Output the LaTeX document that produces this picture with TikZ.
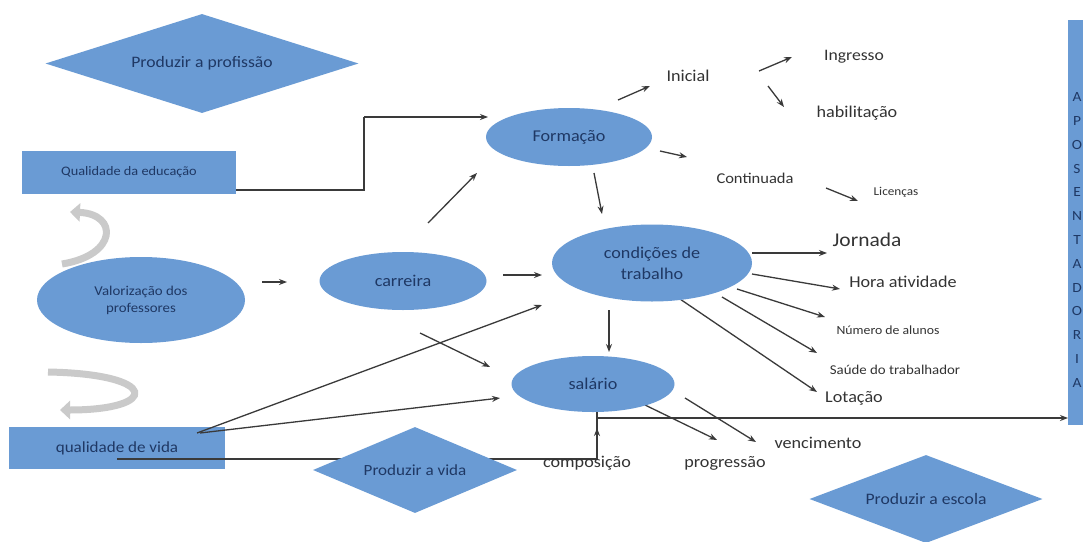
\documentclass[tikz,border=0pt]{standalone}
\usepackage{fontspec}
\setmainfont{Carlito}[FakeStretch=1.1]
\usetikzlibrary{arrows.meta,shapes.geometric}
\definecolor{shapefill}{HTML}{6A9BD4}
\definecolor{shapetext}{HTML}{1F3864}
\definecolor{linecol}{HTML}{3A3A3A}
\definecolor{labelcol}{HTML}{333333}
\definecolor{swirl}{HTML}{CACACA}
\begin{document}
\begin{tikzpicture}[x=1pt,y=-1pt,
  blob/.style={ellipse, fill=shapefill, inner sep=0pt, text=shapetext, align=center},
  box/.style={rectangle, fill=shapefill, inner sep=0pt, text=shapetext},
  dia/.style={diamond, shape aspect=3, fill=shapefill, inner sep=0pt, text=shapetext},
  lab/.style={text=labelcol, inner sep=0pt},
  arr/.style={draw=linecol, line width=1.3pt, -{Stealth[length=8pt,width=6pt]}},
  ln/.style={draw=linecol, line width=1.3pt},
  swirlarrow/.style={draw=swirl, line width=7pt, -{Triangle[length=10pt,width=18pt]}}]
\useasboundingbox (0,0) rectangle (1083,541);
\fill[white] (0,0) rectangle (1083,541);
\begin{scope}
\clip (0,0) rectangle (1083,541);

% grey swirl arrows
\draw[swirlarrow] (62,264) .. controls (118,255) and (118,214) .. (70,212);
\draw[swirlarrow] (48,372) .. controls (160,374) and (160,410) .. (60,410);

% boxes drawn first
\node[box, minimum width=214pt, minimum height=43pt, font=\fontsize{13}{15}\selectfont] (qedu) at (129,172.5) {Qualidade da educação};
\node[box, minimum width=216pt, minimum height=42pt, font=\fontsize{15.5}{17}\selectfont] (qvida) at (117,448) {qualidade de vida};
\node[box, minimum width=24pt, minimum height=405pt, anchor=north west] (apos) at (1068,20) {};
\node[lab, text=shapetext, align=center, font=\fontsize{14}{23.8}\selectfont] (aposlbl) at (1077,240)
  {A\\P\\O\\S\\E\\N\\T\\A\\D\\O\\R\\I\\A};

% named coordinates for connector ends
\coordinate (qeout) at (236,190);
\coordinate (qeup1) at (364,190);
\coordinate (qeup2) at (364,117);
\coordinate (formin) at (488,117);
\coordinate (fi1) at (618,100); \coordinate (fi2) at (650,86);
\coordinate (ii1) at (759,71);  \coordinate (ii2) at (792,57);
\coordinate (ih1) at (768,86);  \coordinate (ih2) at (784,107);
\coordinate (fc1) at (660,151); \coordinate (fc2) at (687,157);
\coordinate (cl1) at (826,188); \coordinate (cl2) at (858,201);
\coordinate (fd1) at (594,173); \coordinate (fd2) at (602,214);
\coordinate (cf1) at (428,223); \coordinate (cf2) at (477,173);
\coordinate (vc1) at (262,282); \coordinate (vc2) at (287,282);
\coordinate (cc1) at (503,275); \coordinate (cc2) at (542,275);
\coordinate (cs1) at (420,333); \coordinate (cs2) at (490,367);
\coordinate (qc1) at (197,433); \coordinate (qc2) at (542,305);
\coordinate (qs1) at (200,433); \coordinate (qs2) at (500,398);
\coordinate (ts1) at (609,310); \coordinate (ts2) at (609,352);
\coordinate (tj1) at (752,253); \coordinate (tj2) at (827,253);
\coordinate (th1) at (752,274); \coordinate (th2) at (840,289);
\coordinate (tn1) at (737,289); \coordinate (tn2) at (825,317);
\coordinate (tsa1) at (722,297); \coordinate (tsa2) at (817,353);
\coordinate (tl1) at (677,297); \coordinate (tl2) at (817,392);
\coordinate (sp1) at (645,405); \coordinate (sp2) at (717,440);
\coordinate (sv1) at (685,398); \coordinate (sv2) at (756,442);
\coordinate (qvl1) at (117,459);
\coordinate (qvl2) at (597,459);
\coordinate (qvl3) at (597,412);
\coordinate (ap1) at (597,418);
\coordinate (ap2) at (1068,418);
\coordinate (cp1) at (597,439); \coordinate (cp2) at (597,428);

% connectors
\draw[ln] (qeout) -- (qeup1) -- (qeup2);
\draw[arr] (qeup2) -- (formin);
\draw[arr] (fi1) -- (fi2);
\draw[arr] (ii1) -- (ii2);
\draw[arr] (ih1) -- (ih2);
\draw[arr] (fc1) -- (fc2);
\draw[arr] (cl1) -- (cl2);
\draw[arr] (fd1) -- (fd2);
\draw[arr] (cf1) -- (cf2);
\draw[arr] (vc1) -- (vc2);
\draw[arr] (cc1) -- (cc2);
\draw[arr] (cs1) -- (cs2);
\draw[arr] (qc1) -- (qc2);
\draw[arr] (qs1) -- (qs2);
\draw[arr] (ts1) -- (ts2);
\draw[arr] (tj1) -- (tj2);
\draw[arr] (th1) -- (th2);
\draw[arr] (tn1) -- (tn2);
\draw[arr] (tsa1) -- (tsa2);
\draw[arr] (tl1) -- (tl2);
\draw[arr] (sp1) -- (sp2);
\draw[arr] (sv1) -- (sv2);
\draw[ln] (qvl1) -- (qvl2) -- (qvl3);
\draw[arr] (ap1) -- (ap2);
\draw[arr] (cp1) -- (cp2);

% diamonds
\node[dia, minimum width=313pt, minimum height=99pt, font=\fontsize{16}{18}\selectfont] (dprof) at (202,63.5) {Produzir a profissão};
\node[dia, minimum width=204pt, minimum height=86pt, font=\fontsize{15.5}{17}\selectfont] (dvida) at (415,470) {Produzir a vida};
\node[dia, minimum width=233pt, minimum height=88pt, font=\fontsize{16}{18}\selectfont] (descola) at (926,499) {Produzir a escola};

% ellipses
\node[blob, minimum width=166pt, minimum height=58pt, font=\fontsize{16.5}{18}\selectfont] (formacao) at (569,137) {Formação};
\node[blob, minimum width=208pt, minimum height=86pt, font=\fontsize{13.5}{17}\selectfont] (valor) at (141,300) {Valorização dos\\professores};
\node[blob, minimum width=167pt, minimum height=58pt, font=\fontsize{16.5}{18}\selectfont] (carreira) at (403,281) {carreira};
\node[blob, minimum width=200pt, minimum height=77pt, font=\fontsize{16.5}{21}\selectfont] (cond) at (652,263) {condições de\\trabalho};
\node[blob, minimum width=163pt, minimum height=56pt, font=\fontsize{16.5}{18}\selectfont] (salario) at (593,384) {salário};

% labels
\node[lab, font=\fontsize{16.5}{18}\selectfont] (inicial) at (688,76) {Inicial};
\node[lab, font=\fontsize{16}{18}\selectfont] (ingresso) at (854,57) {Ingresso};
\node[lab, font=\fontsize{16.5}{18}\selectfont] (habil) at (857,113) {habilitação};
\node[lab, font=\fontsize{15}{18}\selectfont] (contin) at (755,178) {Continuada};
\node[lab, font=\fontsize{12}{14}\selectfont] (licen) at (896,192) {Licenças};
\node[lab, font=\fontsize{19.5}{22}\selectfont] (jornada) at (867,240) {Jornada};
\node[lab, font=\fontsize{16.5}{18}\selectfont] (hora) at (903,282) {Hora atividade};
\node[lab, font=\fontsize{12.5}{14}\selectfont] (numero) at (888,330) {Número de alunos};
\node[lab, font=\fontsize{13.5}{14}\selectfont] (saude) at (895,370) {Saúde do trabalhador};
\node[lab, font=\fontsize{16.5}{18}\selectfont] (lotacao) at (854,398) {Lotação};
\node[lab, font=\fontsize{16.5}{18}\selectfont] (venc) at (818,443) {vencimento};
\node[lab, font=\fontsize{16.5}{18}\selectfont] (progr) at (725,463) {progressão};
\node[lab, font=\fontsize{16.5}{18}\selectfont] (compos) at (587,463) {composição};
\end{scope}
\end{tikzpicture}
\end{document}
